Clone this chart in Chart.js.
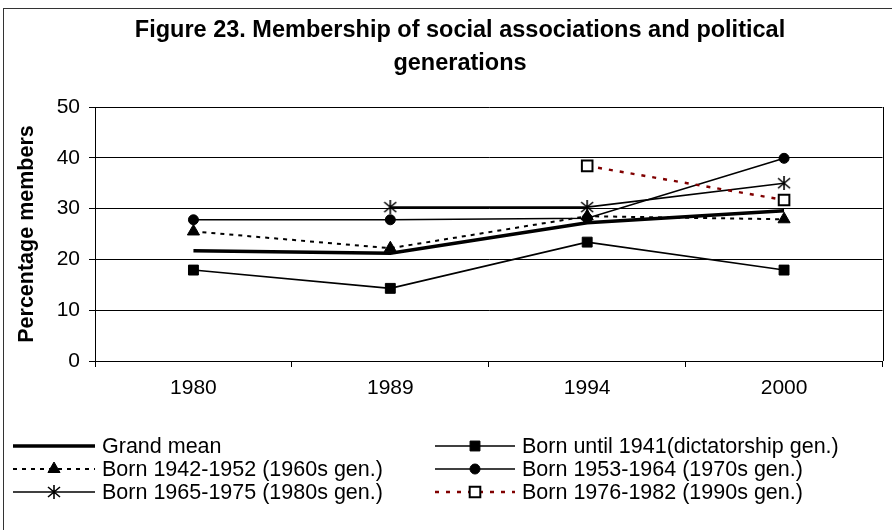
<!DOCTYPE html>
<html>
<head>
<meta charset="utf-8">
<script src="https://cdn.jsdelivr.net/npm/chart.js@4/dist/chart.umd.min.js"></script>
<style>
html, body { margin: 0; padding: 0; background: #fff; }
#wrap { width: 892px; height: 530px; }
</style>
</head>
<body>
<div id="wrap"><canvas id="membershipChart" width="892" height="530"></canvas></div>
<script>
// Chart data
const years = ['1980', '1989', '1994', '2000'];
const grandMean = [21.7, 21.2, 27.2, 29.6];
const bornUntil1941 = [17.9, 14.3, 23.4, 17.9];
const born1942to1952 = [25.5, 22.2, 28.5, 27.9];
const born1953to1964 = [27.8, 27.8, 28.1, 39.9];
const born1965to1975 = [null, 30.3, 30.3, 35.0];
const born1976to1982 = [null, null, 38.4, 31.7];
const yTicks = [0, 10, 20, 30, 40, 50];
const titleLines = ['Figure 23. Membership of social associations and political', 'generations'];

const FONT = '"Liberation Sans", Arial, sans-serif';

// Excel style asterisk marker (x + vertical bar)
function makeAsterisk(size) {
    const c = document.createElement('canvas');
    c.width = size;
    c.height = size;
    const g = c.getContext('2d');
    g.strokeStyle = '#000';
    g.lineWidth = 1.6;
    g.beginPath();
    g.moveTo(size / 2, 0); g.lineTo(size / 2, size);
    g.moveTo(1, 2); g.lineTo(size - 1, size - 2);
    g.moveTo(size - 1, 2); g.lineTo(1, size - 2);
    g.stroke();
    return c;
}
const asterisk = makeAsterisk(14);

const series = (label, data, extra) => Object.assign({
    label: label,
    data: data,
    borderColor: '#000',
    borderWidth: 1.6,
    pointBackgroundColor: '#000',
    pointBorderColor: '#000',
    pointBorderWidth: 1,
    pointRadius: 0,
    pointHoverRadius: 0,
    spanGaps: false,
    fill: false
}, extra);

const datasets = [
    series('Grand mean', grandMean, { borderWidth: 3.5, order: 6 }),
    series('Born until 1941(dictatorship gen.)', bornUntil1941, { pointStyle: 'rect', pointRadius: 7, order: 5 }),
    series('Born 1942-1952 (1960s gen.)', born1942to1952, { pointStyle: 'triangle', pointRadius: 7, borderDash: [4, 5], borderWidth: 2, order: 4 }),
    series('Born 1953-1964 (1970s gen.)', born1953to1964, { pointStyle: 'circle', pointRadius: 5, order: 3 }),
    series('Born 1965-1975 (1980s gen.)', born1965to1975, { pointStyle: asterisk, pointRadius: 7, order: 2 }),
    series('Born 1976-1982 (1990s gen.)', born1976to1982, {
        pointStyle: 'rect', pointRadius: 7.5, pointBackgroundColor: '#fff', pointBorderWidth: 2,
        borderColor: '#800000', borderDash: [4, 7], borderWidth: 2.4, order: 1
    })
];

// Frame, title, plot border and two-column legend
const framePlugin = {
    id: 'frame',
    beforeDraw(chart) {
        const ctx = chart.ctx;
        ctx.save();
        ctx.fillStyle = '#fff';
        ctx.fillRect(0, 0, chart.width, chart.height);
        ctx.strokeStyle = '#333';
        ctx.lineWidth = 1;
        ctx.strokeRect(3.5, 8.5, 1000, 1000);
        ctx.restore();
    },
    afterDraw(chart) {
        const ctx = chart.ctx;
        const area = chart.chartArea;
        ctx.save();
        // plot area right edge
        ctx.strokeStyle = '#000';
        ctx.lineWidth = 1;
        ctx.beginPath();
        ctx.moveTo(Math.round(area.right) + 0.5, area.top);
        ctx.lineTo(Math.round(area.right) + 0.5, area.bottom);
        ctx.stroke();

        // title
        ctx.fillStyle = '#000';
        ctx.font = 'bold 23.5px ' + FONT;
        ctx.textAlign = 'center';
        ctx.textBaseline = 'middle';
        ctx.fillText(titleLines[0], 460, 31);
        ctx.fillText(titleLines[1], 460, 64);

        // legend
        const cols = [{ x0: 13, x1: 95, tx: 102 }, { x0: 435, x1: 515, tx: 522 }];
        const rows = [446, 469, 492];
        ctx.font = '21.5px ' + FONT;
        ctx.textAlign = 'left';
        chart.data.datasets.forEach((ds, i) => {
            const col = cols[i % 2];
            const y = rows[Math.floor(i / 2)];
            ctx.save();
            ctx.strokeStyle = ds.borderColor;
            ctx.lineWidth = ds.borderWidth;
            ctx.setLineDash(ds.borderDash || []);
            ctx.beginPath();
            ctx.moveTo(col.x0, y);
            ctx.lineTo(col.x1, y);
            ctx.stroke();
            ctx.restore();
            if (ds.pointRadius > 0) {
                ctx.save();
                ctx.fillStyle = ds.pointBackgroundColor;
                ctx.strokeStyle = ds.pointBorderColor;
                ctx.lineWidth = ds.pointBorderWidth;
                Chart.helpers.drawPoint(ctx, {
                    pointStyle: ds.pointStyle,
                    radius: ds.pointRadius,
                    rotation: 0,
                    borderWidth: ds.pointBorderWidth
                }, (col.x0 + col.x1) / 2, y);
                ctx.restore();
            }
            ctx.fillStyle = '#000';
            ctx.textBaseline = 'middle';
            ctx.fillText(ds.label, col.tx, y + 1);
        });
        ctx.restore();
    }
};

new Chart(document.getElementById('membershipChart').getContext('2d'), {
    type: 'line',
    data: { labels: years, datasets: datasets },
    options: {
        responsive: false,
        animation: false,
        events: [],
        layout: { padding: { left: 0, right: 5, top: 107, bottom: 0 } },
        elements: { line: { tension: 0 } },
        plugins: {
            legend: { display: false },
            title: { display: false },
            tooltip: { enabled: false }
        },
        scales: {
            x: {
                type: 'category',
                offset: true,
                afterFit: (scale) => { scale.height = 169; },
                grid: { offset: true, drawOnChartArea: false, tickLength: 6, color: '#000' },
                border: { color: '#000' },
                ticks: { color: '#000', font: { family: FONT, size: 21 }, padding: 9 }
            },
            y: {
                min: 0,
                max: 50,
                afterFit: (scale) => { scale.width = 95; },
                afterBuildTicks: (scale) => { scale.ticks = yTicks.map(v => ({ value: v })); },
                grid: { color: '#000', tickLength: 6 },
                border: { color: '#000' },
                ticks: { color: '#000', font: { family: FONT, size: 21 }, padding: 9 },
                title: {
                    display: true,
                    text: 'Percentage members',
                    color: '#000',
                    font: { family: FONT, size: 21.5, weight: 'bold' },
                    padding: { top: 14, bottom: 0 }
                }
            }
        }
    },
    plugins: [framePlugin]
});
</script>
</body>
</html>
